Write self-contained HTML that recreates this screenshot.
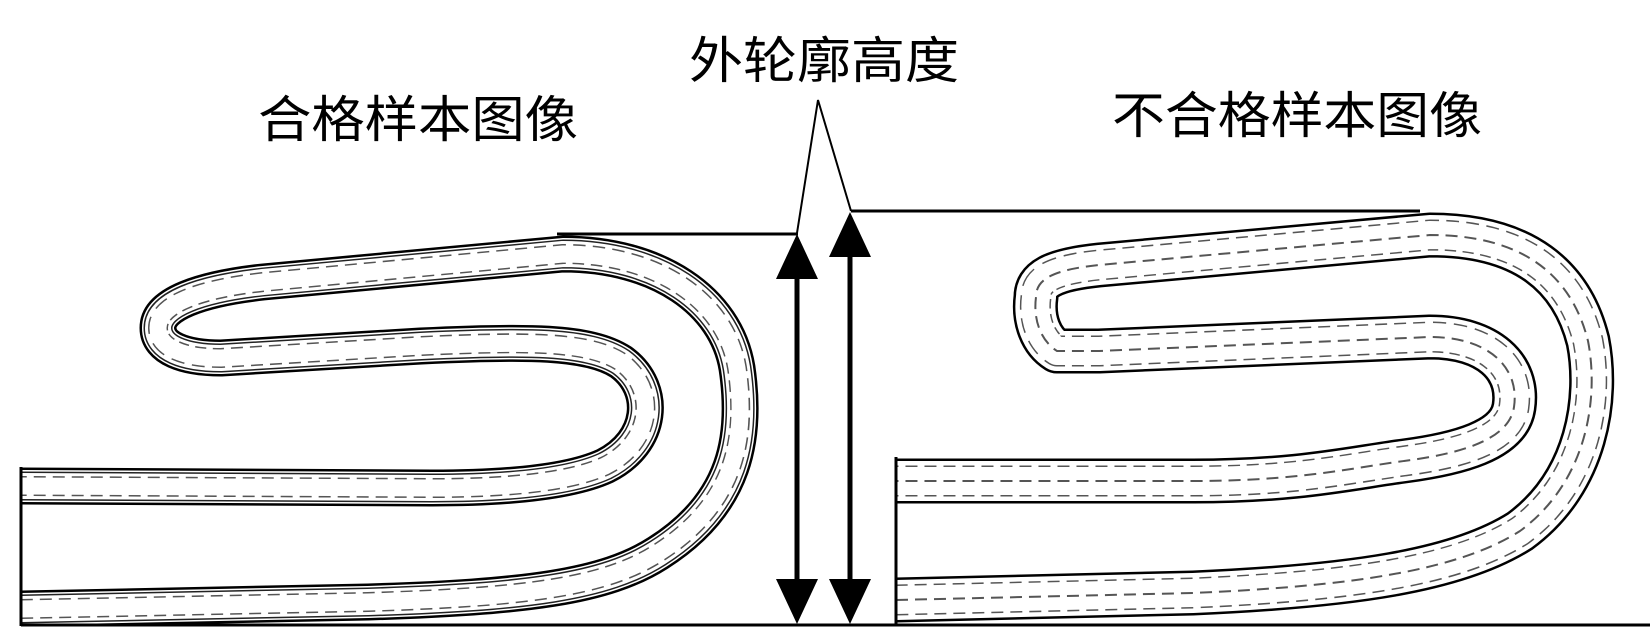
<!DOCTYPE html>
<html><head><meta charset="utf-8"><style>
html,body{margin:0;padding:0;background:#fff;}
svg{display:block;}
text{font-family:"Liberation Sans","Noto Sans CJK SC",sans-serif;font-size:50px;fill:#000;}
</style></head><body>
<svg width="1650" height="638" viewBox="0 0 1650 638" xmlns="http://www.w3.org/2000/svg">
<defs>
<path id="L" d="M21,609 L368,602 C526,597 605,587 658,553 C737,503 747,436 737,368 C726,301 658,254 563,254 L263,282 C200,289 158,304 158,328 C158,348 184,358 221,358 L421,346 C526,341 589,341 621,362 C658,389 653,442 605,466 C568,483 500,488 432,488 L21,486"/>
<path id="R" d="M896,600 L1193,593 C1351,586 1457,571 1520,531 C1588,481 1599,397 1588,341 C1572,277 1525,235 1430,235 L1099,265 C1051,270 1036,280 1036,297 C1033,320 1041,341 1057,351 C1070,351 1080,351 1099,351 L1430,337 C1488,337 1520,367 1514,407 C1509,441 1457,454 1404,461 C1351,468 1299,481 1193,481 L896,481"/>
</defs>
<g fill="none" stroke-linejoin="round">
<use href="#L" stroke="#000" stroke-width="37"/>
<use href="#L" stroke="#fff" stroke-width="32"/>
<use href="#L" stroke="#222" stroke-width="29"/>
<use href="#L" stroke="#fff" stroke-width="26"/>
<use href="#L" stroke="#555" stroke-width="20" stroke-dasharray="12 7"/>
<use href="#L" stroke="#fff" stroke-width="17"/>

<use href="#R" stroke="#000" stroke-width="45"/>
<use href="#R" stroke="#fff" stroke-width="40"/>
<use href="#R" stroke="#555" stroke-width="31" stroke-dasharray="12 7"/>
<use href="#R" stroke="#fff" stroke-width="28"/>
<use href="#R" stroke="#555" stroke-width="2" stroke-dasharray="12 7"/>
</g>
<rect x="0" y="625" width="1650" height="13" fill="#fff"/>
<line x1="21" y1="467" x2="21" y2="626" stroke="#000" stroke-width="3"/>
<line x1="896" y1="457" x2="896" y2="624" stroke="#000" stroke-width="3"/>
<line x1="21" y1="625" x2="1650" y2="625" stroke="#000" stroke-width="3"/>
<line x1="557" y1="234" x2="798" y2="234" stroke="#000" stroke-width="3"/>
<line x1="851" y1="211" x2="1420" y2="211" stroke="#000" stroke-width="3"/>
<polyline points="797,233 818,100 851,211" fill="none" stroke="#000" stroke-width="2"/>
<line x1="797" y1="270" x2="797" y2="590" stroke="#000" stroke-width="5"/>
<polygon points="797,234 776,279 818,279" fill="#000"/>
<polygon points="797,624 776,579 818,579" fill="#000"/>
<line x1="850" y1="250" x2="850" y2="590" stroke="#000" stroke-width="5"/>
<polygon points="850,212 829,257 871,257" fill="#000"/>
<polygon points="850,624 829,579 871,579" fill="#000"/>
<text x="689" y="78" textLength="270" lengthAdjust="spacingAndGlyphs">外轮廓高度</text>
<text x="258" y="137" textLength="320" lengthAdjust="spacingAndGlyphs">合格样本图像</text>
<text x="1112" y="133" textLength="370" lengthAdjust="spacingAndGlyphs">不合格样本图像</text>
</svg>
</body></html>
